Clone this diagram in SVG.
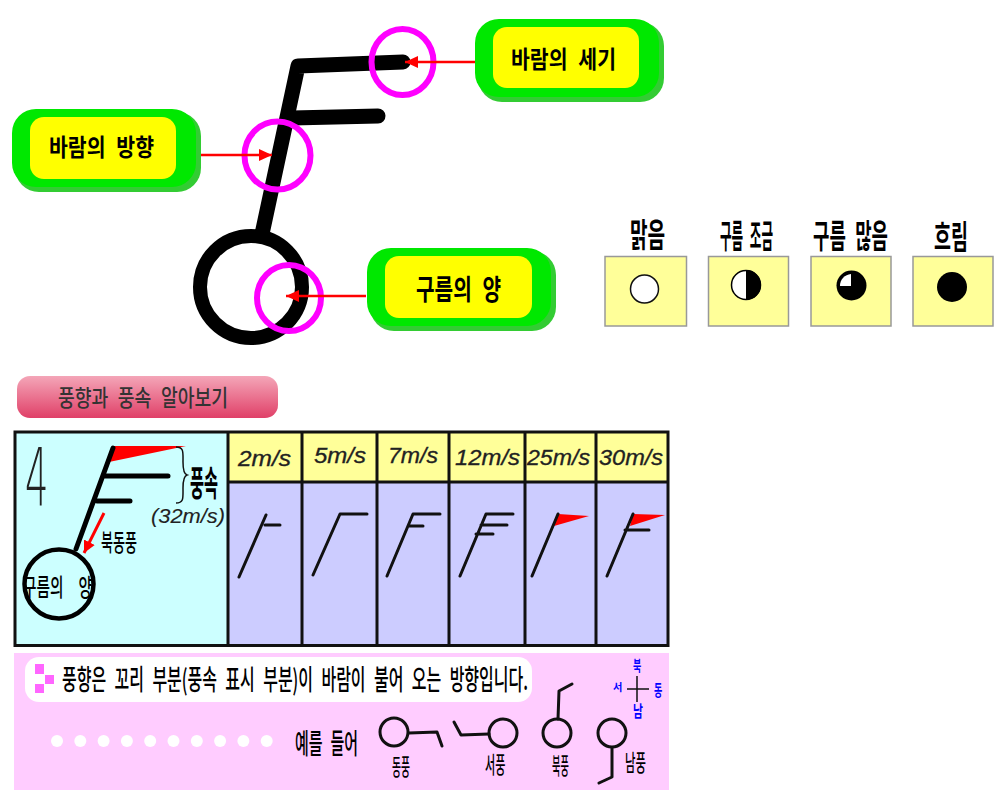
<svg xmlns="http://www.w3.org/2000/svg" width="1002" height="804" viewBox="0 0 1002 804">
<style>
.ko{font-family:"Noto Sans CJK KR","Noto Sans",sans-serif;font-weight:700;font-size:16px;fill:#000;word-spacing:.3em}
.sm{font-size:12px;font-weight:500}
.md{font-weight:500}
.bl{fill:#00f;font-weight:700}
.it{font-family:"Liberation Sans",Arial,sans-serif;font-style:italic;font-size:22px;fill:#222;stroke:#222;stroke-width:.3}
.sh{fill:#33cc33}.gr{fill:#00e800}.ye{fill:#ffff00}
.ring{fill:none;stroke:#ff00ff;stroke-width:6}
.red{stroke:#ff0000;stroke-width:2.500;fill:none;marker-end:url(#ah)}
.wb{fill:#ffff99;stroke:#999;stroke-width:1.500}
.cell{stroke:none}
.thin{fill:none;stroke:#111;stroke-width:3;stroke-linecap:round;stroke-linejoin:round}
.st{fill:none;stroke:#111;stroke-width:3;stroke-linecap:round;stroke-linejoin:round}
.big{fill:none;stroke:#000;stroke-width:15;stroke-linecap:round;stroke-linejoin:round}
</style>
<defs>
<marker id="ah" markerUnits="userSpaceOnUse" markerWidth="14" markerHeight="14" refX="13" refY="7" orient="auto"><path d="M0 1 L13 7 L0 13 Z" fill="#f00"/></marker>
<marker id="ah2" markerUnits="userSpaceOnUse" markerWidth="14" markerHeight="14" refX="12" refY="7" orient="auto"><path d="M0 1 L12 7 L0 13 Z" fill="#f00"/></marker>
<linearGradient id="pill" x1="0" y1="0" x2="0" y2="1"><stop offset="0" stop-color="#f4a6b8"/><stop offset="1" stop-color="#e04068"/></linearGradient>
</defs>
<rect width="1002" height="804" fill="#fff"/>

<g id="big-barb">
<path class="big" d="M262 234 L298 66 L403 62"/>
<path class="big" d="M292 118 L378 116"/>
<circle cx="251" cy="287" r="51" fill="none" stroke="#000" stroke-width="14"/>
</g>
<g id="rings">
<ellipse class="ring" cx="402.500" cy="62" rx="31" ry="33"/>
<ellipse class="ring" cx="277.500" cy="155.500" rx="33" ry="34"/>
<ellipse class="ring" cx="289" cy="298" rx="32" ry="33"/>
</g>
<g id="node-strength">
<rect class="sh" x="478" y="22" width="186" height="80" rx="24"/>
<rect class="gr" x="475" y="19" width="184" height="78" rx="24"/>
<rect class="ye" x="493" y="27" width="146" height="61" rx="14"/>
<text class="ko" transform="translate(511 68) scale(1 1.500)" textLength="105" lengthAdjust="spacingAndGlyphs">바람의 세기</text>
</g>
<g id="node-direction">
<rect class="sh" x="15" y="112" width="186" height="80" rx="24"/>
<rect class="gr" x="12" y="109" width="184" height="78" rx="24"/>
<rect class="ye" x="30" y="117" width="146" height="62" rx="14"/>
<text class="ko" transform="translate(49 156) scale(1 1.500)" textLength="105" lengthAdjust="spacingAndGlyphs">바람의 방향</text>
</g>
<g id="node-cloud">
<rect class="sh" x="370" y="251" width="186" height="80" rx="24"/>
<rect class="gr" x="367" y="248" width="184" height="78" rx="24"/>
<rect class="ye" x="385" y="256" width="147" height="62" rx="14"/>
<text class="ko" transform="translate(416 300) scale(1 1.750)" textLength="85" lengthAdjust="spacingAndGlyphs">구름의 양</text>
</g>

<g id="sky-clear">
<text class="ko" transform="translate(630 246.500) scale(1.100 2.080)" textLength="32" lengthAdjust="spacingAndGlyphs">맑음</text>
<rect class="wb" x="605" y="256.500" width="81.500" height="69.500"/>
<circle cx="644.500" cy="289" r="14" fill="#fff" stroke="#111" stroke-width="1.500"/>
</g>
<g id="sky-few">
<text class="ko" transform="translate(720 247.500) scale(1 2.080)" textLength="53" lengthAdjust="spacingAndGlyphs">구름 조금</text>
<rect class="wb" x="708.500" y="256.500" width="80" height="69.500"/>
<circle cx="746" cy="285" r="14.500" fill="#fff" stroke="#000" stroke-width="1.500"/>
<path d="M746 270 A15 15 0 0 1 746 300 Z" fill="#000"/>
</g>
<g id="sky-many">
<text class="ko" transform="translate(813 247.500) scale(1 2.080)" textLength="75" lengthAdjust="spacingAndGlyphs">구름 많음</text>
<rect class="wb" x="811" y="256.500" width="80" height="69.500"/>
<circle cx="851.500" cy="285.500" r="15" fill="#000"/>
<path d="M851 286 L851 274 A12 12 0 0 0 840 286 Z" fill="#fff"/>
</g>
<g id="sky-overcast">
<text class="ko" transform="translate(934 249) scale(1.060 2.080)" textLength="32" lengthAdjust="spacingAndGlyphs">흐림</text>
<rect class="wb" x="913" y="256.500" width="80" height="69.500"/>
<circle cx="952" cy="287" r="15" fill="#000"/>
</g>

<g id="title">
<rect x="17" y="376" width="261" height="42" rx="13" fill="url(#pill)"/>
<text class="ko md" transform="translate(58 406) scale(1 1.400)" textLength="170" lengthAdjust="spacingAndGlyphs" style="fill:#333">풍향과 풍속 알아보기</text>
</g>

<g id="table">
<rect class="cell" x="14" y="432" width="214" height="214" fill="#ccffff"/>
<rect class="cell" x="228" y="432" width="440" height="50" fill="#ffff99"/>
<rect class="cell" x="228" y="482" width="440" height="164" fill="#ccccff"/>
<path d="M228 432V646M302 432V646M377 432V646M449 432V646M525 432V646M596 432V646M228 482H668" fill="none" stroke="#111" stroke-width="3"/>
<rect x="15" y="432" width="653" height="213.500" fill="none" stroke="#111" stroke-width="3"/>
<text class="it" x="238" y="466" textLength="53" lengthAdjust="spacingAndGlyphs">2m/s</text>
<text class="it" x="314" y="463" textLength="52" lengthAdjust="spacingAndGlyphs">5m/s</text>
<text class="it" x="388" y="463" textLength="50" lengthAdjust="spacingAndGlyphs">7m/s</text>
<text class="it" x="455" y="465" textLength="65" lengthAdjust="spacingAndGlyphs">12m/s</text>
<text class="it" x="527" y="465" textLength="63" lengthAdjust="spacingAndGlyphs">25m/s</text>
<text class="it" x="599" y="465" textLength="64" lengthAdjust="spacingAndGlyphs">30m/s</text>
</g>

<g id="legend-barb">
<text transform="translate(25 506) scale(.46 1)" font-family="DejaVu Sans ExtraLight,DejaVu Sans,sans-serif" font-weight="200" font-size="80" fill="#222">4</text>
<path d="M109 462 L114 446 L186 446 Z" fill="#f00"/>
<path d="M76 549 L113 448" fill="none" stroke="#000" stroke-width="5" stroke-linecap="round"/>
<path d="M105 476 H168 M97 501 H130" fill="none" stroke="#000" stroke-width="5" stroke-linecap="round"/>
<circle cx="59" cy="584" r="34.500" fill="none" stroke="#000" stroke-width="4.500"/>
<path d="M176 447 C184 447 183 452 183 462 C183 470 184 474 187 475 C184 476 183 480 183 488 C183 498 184 503 176 503" fill="none" stroke="#111" stroke-width="1.500"/>
<text class="ko" transform="translate(190 496) scale(1 2.200)" textLength="28" lengthAdjust="spacingAndGlyphs">풍속</text>
<text class="it" x="151" y="523" textLength="74" lengthAdjust="spacingAndGlyphs" style="font-size:20px;stroke-width:.1">(32m/s)</text>
<text class="ko md" transform="translate(101 551) scale(1 1.500)" textLength="36" lengthAdjust="spacingAndGlyphs">북동풍</text>
<text class="ko sm" transform="translate(23 596) scale(1 2)" textLength="69" lengthAdjust="spacingAndGlyphs" style="word-spacing:.8em">구름의 양</text>
</g>

<g id="barb-2"><path class="thin" d="M239 577 L266 515 M265 525 H280"/></g>
<g id="barb-5"><path class="thin" d="M313 575 L340 514 H367"/></g>
<g id="barb-7"><path class="thin" d="M387 576 L413 514 H440 M408 526 H423"/></g>
<g id="barb-12"><path class="thin" d="M460 576 L486 514 H513 M481 525 H507 M476 534 H493"/></g>
<g id="barb-25"><path d="M558 514 L589 516 L554 526 Z" fill="#f00"/><path class="thin" d="M532 576 L558 514"/></g>
<g id="barb-30"><path d="M633 514 L665 515 L630 526 Z" fill="#f00"/><path class="thin" d="M607 576 L633 514 M625 530 H649"/></g>

<g id="note-panel">
<rect x="14" y="653" width="655" height="137" fill="#ffccff"/>
<rect x="25" y="657" width="507" height="45" rx="14" fill="#fff"/>
<path d="M35 664h9v10h-9z M45 675h9v9h-9z M35 684h9v9h-9z" fill="#ff66ff"/>
<text class="ko md" transform="translate(62 690) scale(1 1.750)" textLength="466" lengthAdjust="spacingAndGlyphs">풍향은 꼬리 부분(풍속 표시 부분)이 바람이 불어 오는 방향입니다.</text>
<g fill="#fff">
<circle cx="57" cy="741" r="6"/><circle cx="80.300" cy="741" r="6"/><circle cx="103.600" cy="741" r="6"/><circle cx="126.900" cy="741" r="6"/><circle cx="150.200" cy="741" r="6"/><circle cx="173.500" cy="741" r="6"/><circle cx="196.800" cy="741" r="6"/><circle cx="220.100" cy="741" r="6"/><circle cx="243.400" cy="741" r="6"/><circle cx="266.700" cy="741" r="6"/>
</g>
<text class="ko md" transform="translate(295 754) scale(1 1.800)" textLength="63" lengthAdjust="spacingAndGlyphs">예를 들어</text>
</g>

<g id="wind-east">
<circle class="st" cx="394" cy="732" r="14"/><path class="st" d="M409 733 L437 732 L442 746"/>
<text class="ko sm" transform="translate(392 775) scale(.75 1.850)" textLength="24" lengthAdjust="spacingAndGlyphs">동풍</text>
</g>
<g id="wind-west">
<circle class="st" cx="503" cy="733" r="14"/><path class="st" d="M489 734 L461 735 L454 722"/>
<text class="ko sm" transform="translate(485 773) scale(.85 1.850)" textLength="24" lengthAdjust="spacingAndGlyphs">서풍</text>
</g>
<g id="wind-north">
<circle class="st" cx="557" cy="733" r="14"/><path class="st" d="M558 719 L559 691 L572 684"/>
<text class="ko sm" transform="translate(552 774) scale(.7 1.850)" textLength="24" lengthAdjust="spacingAndGlyphs">북풍</text>
</g>
<g id="wind-south">
<circle class="st" cx="612" cy="733" r="14"/><path class="st" d="M612 748 L612 777 L599 783"/>
<text class="ko sm" transform="translate(625 771) scale(.87 1.850)" textLength="24" lengthAdjust="spacingAndGlyphs">남풍</text>
</g>
<g id="compass">
<path d="M627 689 H649 M637 676 V702" fill="none" stroke="#111" stroke-width="1.500"/>
<text class="ko sm bl" transform="translate(633 670.500) scale(.75 1.250)">북</text>
<text class="ko sm bl" transform="translate(613 691) scale(.85 .85)">서</text>
<text class="ko sm bl" transform="translate(654 695.500) scale(.75 1.300)">동</text>
<text class="ko sm bl" transform="translate(633 716.500) scale(.9 1.300)">남</text>
</g>

<g id="connectors">
<path class="red" d="M475 62 L405 62"/>
<path class="red" d="M201 155 L272 155"/>
<path class="red" d="M366 296 L286 296"/>
<path d="M104 513 L84 553" fill="none" stroke="#f00" stroke-width="3" marker-end="url(#ah2)"/>
</g>
</svg>
